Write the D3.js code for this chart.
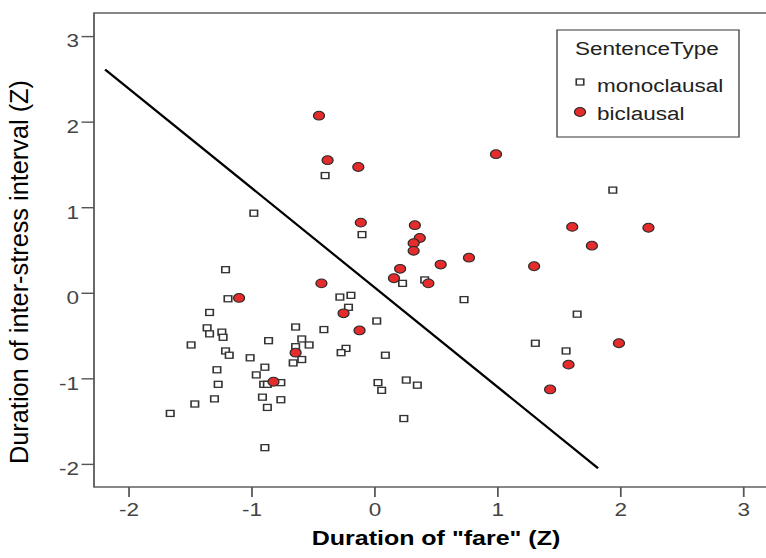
<!DOCTYPE html>
<html>
<head>
<meta charset="utf-8">
<script src="https://cdn.jsdelivr.net/npm/d3@7"></script>
<style>
  body { margin: 0; background: #fff; }
  svg { display: block; font-family: "Liberation Sans", Arial, sans-serif; }
</style>
</head>
<body>
<svg id="chart" width="766" height="558"></svg>
<script>
// monoclausal sentences (squares)
const monoX = [-0.98, -0.40, -0.10, -1.21, -1.19, -1.34, -1.36, -1.34, -1.24, -1.23,
               -1.49, -1.21, -1.18, -1.01, -0.86, -0.64, -0.64, -0.59, -0.53, -0.59,
               -0.66, -0.89, -1.28, -0.96, -1.27, -0.90, -0.87, -0.76, -1.30, -0.91,
               -0.76, -0.87, -1.46, -1.66, -0.89, -0.28, -0.19, -0.21, 0.02, -0.41,
               -0.23, -0.27, 0.09, 0.03, 0.06, 0.26, 0.35, 0.24, 0.23, 0.41,
               0.73, 1.94, 1.65, 1.31, 1.56];
const monoY = [0.93, 1.37, 0.68, 0.27, -0.07, -0.23, -0.41, -0.48, -0.46, -0.52,
               -0.61, -0.68, -0.73, -0.76, -0.56, -0.40, -0.63, -0.54, -0.61, -0.78,
               -0.82, -0.87, -0.90, -0.96, -1.07, -1.07, -1.07, -1.05, -1.24, -1.22,
               -1.25, -1.34, -1.30, -1.41, -1.81, -0.05, -0.03, -0.17, -0.33, -0.43,
               -0.65, -0.70, -0.73, -1.05, -1.14, -1.02, -1.08, -1.47, 0.11, 0.15,
               -0.08, 1.20, -0.25, -0.59, -0.68];

// biclausal sentences (red dots)
const biX = [-1.10, -0.64, -0.82, -0.43, -0.25, -0.12, 0.21, 0.16, 0.44, 0.54,
             -0.45, -0.38, -0.13, -0.11, 0.33, 0.37, 0.32, 0.32, 0.77, 0.99,
             1.61, 2.23, 1.77, 1.30, 1.99, 1.58, 1.43];
const biY = [-0.06, -0.70, -1.04, 0.11, -0.24, -0.44, 0.28, 0.17, 0.11, 0.33,
             2.07, 1.55, 1.47, 0.82, 0.79, 0.64, 0.58, 0.49, 0.41, 1.62,
             0.77, 0.76, 0.55, 0.31, -0.59, -0.84, -1.13];

// separating line
const lineX = [-2.19, 1.82];
const lineY = [2.61, -2.05];

const xTicks = [-2, -1, 0, 1, 2, 3];
const yTicks = [-2, -1, 0, 1, 2, 3];
const legendLabels = ["monoclausal", "biclausal"];

// the picture is stretched sideways, so draw everything in a squeezed group
const SX = 1.25;
const svg = d3.select("#chart");
const g = svg.append("g").attr("transform", "scale(" + SX + ",1)");

const plotLeft = 94 / SX, plotRight = 780 / SX, plotTop = 13, plotBottom = 487;

const x = d3.scaleLinear().domain([-2.28, 3.3]).range([plotLeft, plotRight]);
const y = d3.scaleLinear().domain([-2.27, 3.27]).range([plotBottom, plotTop]);

// frame
g.append("rect")
    .attr("x", plotLeft).attr("y", plotTop)
    .attr("width", plotRight - plotLeft).attr("height", plotBottom - plotTop)
    .attr("fill", "none").attr("stroke", "#555").attr("stroke-width", 1.4);

// axes
const yAxis = g.append("g")
    .attr("transform", "translate(" + plotLeft + ",0)")
    .call(d3.axisLeft(y).tickValues(yTicks).tickSize(10).tickPadding(2)
        .tickFormat(d => String(d)));
const xAxis = g.append("g")
    .attr("transform", "translate(0," + plotBottom + ")")
    .call(d3.axisBottom(x).tickValues(xTicks).tickSize(10).tickPadding(6)
        .tickFormat(d => String(d)));

[yAxis, xAxis].forEach(ax => {
    ax.select(".domain").remove();
    ax.selectAll(".tick line").attr("stroke", "#555").attr("stroke-width", 1.4);
    ax.selectAll(".tick text")
        .attr("fill", "#444")
        .style("font-size", "18px")
        .style("font-family", "'Liberation Sans', Arial, sans-serif");
});
yAxis.selectAll(".tick text").attr("dy", "0.6em");

// titles
g.append("text")
    .attr("x", 436 / SX).attr("y", 545)
    .attr("text-anchor", "middle")
    .style("font-size", "20px").style("font-weight", "bold")
    .text('Duration of "fare" (Z)');

g.append("text")
    .attr("transform", "translate(" + (28 / SX) + ",272) rotate(-90)")
    .attr("text-anchor", "middle")
    .attr("textLength", 384).attr("lengthAdjust", "spacingAndGlyphs")
    .style("font-size", "20px")
    .text("Duration of inter-stress interval (Z)");

// the line
const line = d3.line().x(d => x(d[0])).y(d => y(d[1]));
g.append("path")
    .datum(d3.zip(lineX, lineY))
    .attr("d", line)
    .attr("fill", "none").attr("stroke", "#000").attr("stroke-width", 2);

// points
const sq = 6;
g.selectAll(".mono")
    .data(d3.zip(monoX, monoY))
    .enter()
    .append("rect")
    .attr("class", "mono")
    .attr("x", d => x(d[0]) - sq / 2)
    .attr("y", d => y(d[1]) - sq / 2)
    .attr("width", sq).attr("height", sq)
    .attr("fill", "#fff").attr("stroke", "#333").attr("stroke-width", 1.3);

g.selectAll(".bi")
    .data(d3.zip(biX, biY))
    .enter()
    .append("circle")
    .attr("class", "bi")
    .attr("cx", d => x(d[0]))
    .attr("cy", d => y(d[1]))
    .attr("r", 4.4)
    .attr("fill", "#e52b2b").attr("stroke", "#2a2a2a").attr("stroke-width", 1);

// legend
const lg = g.append("g");
lg.append("rect")
    .attr("x", 557 / SX).attr("y", 30)
    .attr("width", (739 - 557) / SX).attr("height", 107)
    .attr("fill", "#fff").attr("stroke", "#555").attr("stroke-width", 1.2);
lg.append("text")
    .attr("x", 575 / SX).attr("y", 55)
    .attr("fill", "#222")
    .style("font-size", "18px")
    .text("SentenceType");

lg.append("rect")
    .attr("x", 580 / SX - sq / 2).attr("y", 82 - sq / 2)
    .attr("width", sq).attr("height", sq)
    .attr("fill", "#fff").attr("stroke", "#333").attr("stroke-width", 1.3);
lg.append("circle")
    .attr("cx", 580 / SX).attr("cy", 112).attr("r", 4.4)
    .attr("fill", "#e52b2b").attr("stroke", "#2a2a2a").attr("stroke-width", 1);

lg.selectAll(".lbl")
    .data(legendLabels)
    .enter()
    .append("text")
    .attr("class", "lbl")
    .attr("x", 597 / SX)
    .attr("y", (d, i) => 92 + i * 28)
    .attr("fill", "#222")
    .style("font-size", "18px")
    .text(d => d);
</script>
</body>
</html>
